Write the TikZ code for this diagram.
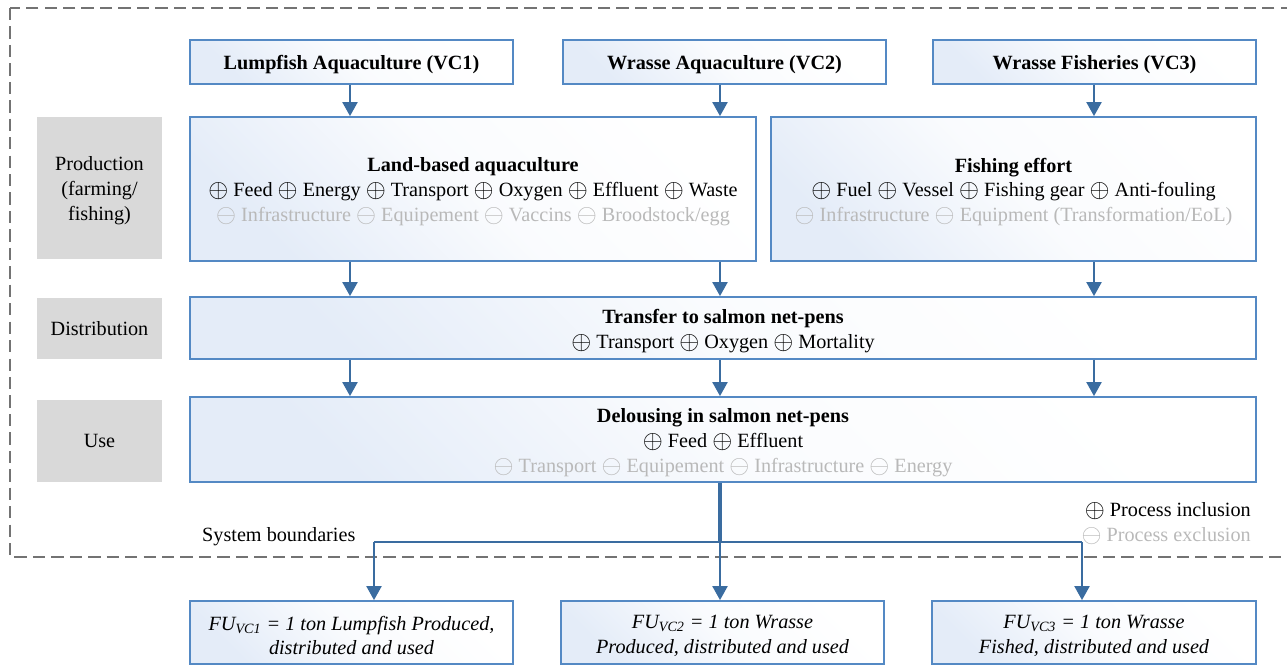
\documentclass[tikz,border=0pt]{standalone}
\usepackage{fontspec}
\setmainfont{Liberation Serif}
\usetikzlibrary{arrows.meta}

\definecolor{boxblue}{RGB}{84,137,196}
\definecolor{arrowblue}{RGB}{58,108,160}
\definecolor{bluefill}{RGB}{228,236,248}
\definecolor{stagegray}{RGB}{217,217,217}
\definecolor{excltext}{RGB}{185,185,185}
\definecolor{dashgray}{RGB}{115,115,115}

\newcommand{\incl}{\raisebox{-0.4pt}{\scalebox{1.22}{$\oplus$}}}
\newcommand{\excl}{\raisebox{-0.4pt}{\scalebox{1.22}{$\ominus$}}}
\newcommand{\topstrut}{\rule{0pt}{11.5pt}}

\begin{document}
\begin{tikzpicture}[x=0.02cm, y=-0.02cm,
    every node/.style={font=\fontsize{11.5}{14.2}\selectfont},
    chainbox/.style={draw=boxblue, line width=1pt, top color=bluefill, bottom color=white,
        middle color=white!80!bluefill, shading angle=135, align=center, inner sep=0pt},
    fubox/.style={chainbox, font=\fontsize{11.5}{14.2}\selectfont\itshape},
    stagebox/.style={fill=stagegray, align=center, minimum width=2.5cm, inner sep=0pt},
    arr/.style={draw=arrowblue, line width=1.4pt, -{Triangle[length=8pt,width=8.5pt]}},
    trunk/.style={draw=arrowblue, line width=2.2pt},
    branch/.style={draw=arrowblue, line width=1.4pt},
    excl/.style={text=excltext}]

    \clip (0,0) rectangle (1287,666);

    % System boundaries (dashed)
    \draw[dashgray, line width=1.1pt, dash pattern=on 7pt off 3.5pt] (10,8) rectangle (1320,557);
    \node[anchor=west] (sysb) at (196,537) {System boundaries};

    % Columns of the three value chains
    \coordinate (col1) at (350,0);
    \coordinate (col2) at (720,0);
    \coordinate (col3) at (1094,0);

    % Value chains
    \node[chainbox, minimum width=6.46cm, minimum height=0.88cm] (vc1) at (351.5,62) {\topstrut\textbf{Lumpfish Aquaculture (VC1)}};
    \node[chainbox, minimum width=6.46cm, minimum height=0.88cm] (vc2) at (724.5,62) {\topstrut\textbf{Wrasse Aquaculture (VC2)}};
    \node[chainbox, minimum width=6.46cm, minimum height=0.88cm] (vc3) at (1094.5,62) {\topstrut\textbf{Wrasse Fisheries (VC3)}};

    % Stages
    \node[stagebox, minimum height=2.84cm] (prod) at (99.5,188) {\topstrut Production\\(farming/\\fishing)};
    \node[stagebox, minimum height=1.22cm] (dist) at (99.5,328.5) {Distribution};
    \node[stagebox, minimum height=1.64cm] (use) at (99.5,441) {Use};

    % Production
    \node[chainbox, minimum width=11.32cm, minimum height=2.88cm] (land) at (473,189)
        {\topstrut\textbf{Land-based aquaculture}\\
         \incl{} Feed \incl{} Energy \incl{} Transport \incl{} Oxygen \incl{} Effluent \incl{} Waste\\
         \textcolor{excltext}{\excl{} Infrastructure \excl{} Equipement \excl{} Vaccins \excl{} Broodstock/egg}};
    \node[chainbox, minimum width=9.70cm, minimum height=2.88cm] (fish) at (1013.5,189)
        {\topstrut\textbf{Fishing effort}\\
         \incl{} Fuel \incl{} Vessel \incl{} Fishing gear \incl{} Anti-fouling\\
         \textcolor{excltext}{\excl{} Infrastructure \excl{} Equipment (Transformation/EoL)}};

    % Distribution
    \node[chainbox, minimum width=21.32cm, minimum height=1.24cm] (transfer) at (723,328)
        {\topstrut\textbf{Transfer to salmon net-pens}\\
         \incl{} Transport \incl{} Oxygen \incl{} Mortality};

    % Use
    \node[chainbox, minimum width=21.32cm, minimum height=1.70cm] (delouse) at (723,439.5)
        {\topstrut\textbf{Delousing in salmon net-pens}\\
         \incl{} Feed \incl{} Effluent\\
         \textcolor{excltext}{\excl{} Transport \excl{} Equipement \excl{} Infrastructure \excl{} Energy}};

    % Legend
    \node[anchor=east] (inclnode) at (1257,511) {\incl{} Process inclusion};
    \node[anchor=east, excl] (exclnode) at (1257,536) {\excl{} Process exclusion};

    % Functional units
    \node[fubox, minimum width=6.46cm, minimum height=1.26cm] (fu1) at (351.5,632.5)
        {\topstrut FU\textsubscript{VC1} = 1 ton Lumpfish Produced,\\ distributed and used};
    \node[fubox, minimum width=6.46cm, minimum height=1.26cm] (fu2) at (722.5,632.5)
        {\topstrut FU\textsubscript{VC2} = 1 ton Wrasse\\ Produced, distributed and used};
    \node[fubox, minimum width=6.48cm, minimum height=1.26cm] (fu3) at (1094,632.5)
        {\topstrut FU\textsubscript{VC3} = 1 ton Wrasse\\ Fished, distributed and used};

    % Arrows down the chains
    \draw[arr] (vc1.south -| col1) -- (land.north -| col1);
    \draw[arr] (vc2.south -| col2) -- (land.north -| col2);
    \draw[arr] (vc3.south -| col3) -- (fish.north -| col3);

    \draw[arr] (land.south -| col1) -- (transfer.north -| col1);
    \draw[arr] (land.south -| col2) -- (transfer.north -| col2);
    \draw[arr] (fish.south -| col3) -- (transfer.north -| col3);

    \foreach \c in {col1,col2,col3} {
        \draw[arr] (transfer.south -| \c) -- (delouse.north -| \c);
    }

    % Split towards the functional units
    \coordinate (split) at (720,542);
    \coordinate (b1) at (374,542);
    \coordinate (b3) at (1082,542);
    \draw[trunk] (delouse.south -| split) -- (split);
    \draw[branch] (b1) -- (b3);
    \draw[arr] (b1) -- (fu1.north -| b1);
    \draw[arr] (split) -- (fu2.north -| split);
    \draw[arr] (b3) -- (fu3.north -| b3);

\end{tikzpicture}
\end{document}
